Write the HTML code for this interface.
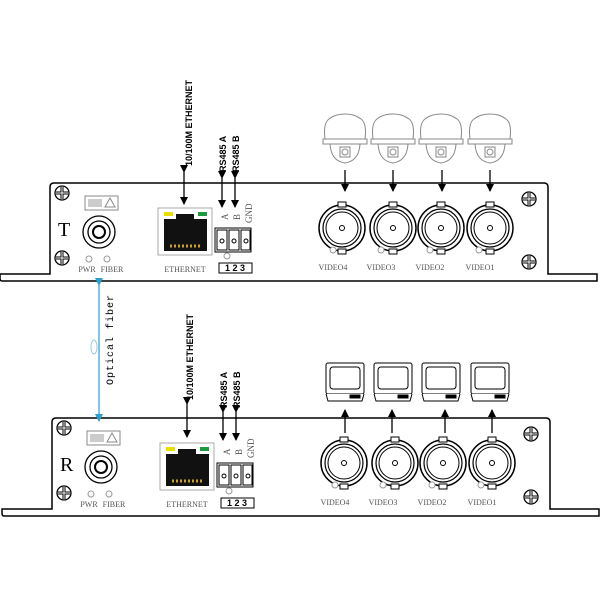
<!DOCTYPE html>
<html><head><style>body{margin:0;background:#fff}svg{display:block}</style></head><body>
<svg width="600" height="600" viewBox="0 0 600 600" xmlns="http://www.w3.org/2000/svg" font-family="Liberation Serif, serif">
<defs>
<marker id="ah" markerWidth="8" markerHeight="8" refX="7" refY="4" orient="auto" markerUnits="userSpaceOnUse"><path d="M0,0 L8,4 L0,8 z" fill="#000"/></marker>
<marker id="bh" markerWidth="8" markerHeight="8" refX="7" refY="4" orient="auto" markerUnits="userSpaceOnUse"><path d="M0,0 L8,4 L0,8 z" fill="#2a9fd0"/></marker>
<g id="screw"><circle r="7" fill="#fff" stroke="#000" stroke-width="1.3"/><path d="M-6,0H6M0,-6V6" stroke="#000" stroke-width="3"/><path d="M-6,0H6M0,-6V6" stroke="#fff" stroke-width="1"/></g>
<g id="bnc"><circle r="23" fill="#fff" stroke="#000" stroke-width="1.5"/><circle r="19" fill="none" stroke="#000" stroke-width="1.2"/><circle r="16" fill="none" stroke="#000" stroke-width="1"/><rect x="-4" y="-26" width="8" height="5" fill="#fff" stroke="#000"/><rect x="-4" y="21" width="8" height="5" fill="#fff" stroke="#000"/><circle r="2.5" fill="none" stroke="#000"/></g>
<g id="cam" fill="#fff" stroke="#888" stroke-width="1"><path d="M-20,22 Q-22,6 -16,2 Q-10,-3 0,-3 Q10,-3 16,2 Q22,6 20,22 z"/><path d="M-22,22 H22 V27 H-22 z"/><path d="M-15,27 Q-14,44 0,46 Q14,44 15,27 z"/><rect x="-5" y="30" width="10" height="10"/><circle cx="0" cy="35" r="3"/></g>
<g id="mon" fill="#fff" stroke="#000" stroke-width="1"><rect x="-19" y="0" width="38" height="31" rx="2"/><rect x="-15" y="4" width="30" height="22" rx="3"/><path d="M-19,31 L-17,38 H17 L19,31"/><rect x="5" y="32" width="10" height="3" fill="#000"/></g>
<g id="dev">
<path d="M0,91 H50 V4 Q50,0 54,0 H544 Q548,0 548,4 V91 H597 V98 H2 Q0,98 0,95 z" fill="#fff" stroke="#000" stroke-width="1.5"/>
<use href="#screw" x="62" y="10"/><use href="#screw" x="62" y="75"/>
<use href="#screw" x="529" y="16"/><use href="#screw" x="529" y="79"/>
<rect x="85" y="13" width="33" height="14" fill="#fff" stroke="#888"/><path d="M105,24 L110,15 L115,24 z" fill="none" stroke="#888"/><rect x="88" y="16" width="14" height="8" fill="#ccc"/>
<circle cx="99" cy="49" r="16" fill="#fff" stroke="#000" stroke-width="1.3"/><circle cx="99" cy="49" r="11" fill="none" stroke="#000" stroke-width="1.3"/><circle cx="99" cy="49" r="6" fill="none" stroke="#000" stroke-width="2"/>
<circle cx="89" cy="76" r="3" fill="#fff" stroke="#999"/><circle cx="107" cy="76" r="3" fill="#fff" stroke="#999"/>
<rect x="158" y="25" width="54" height="47" fill="#fff" stroke="#aaa"/><rect x="164" y="29" width="9" height="4" fill="#e8e000"/><rect x="198" y="29" width="9" height="4" fill="#1a9a3a"/>
<path d="M164,36 H176 V31 H194 V36 H207 V68 H164 z" fill="#111"/><path d="M170,63 H202" stroke="#c9a030" stroke-width="3" stroke-dasharray="2,2"/>
<rect x="215" y="45" width="36" height="24" fill="#fff" stroke="#000"/><rect x="217" y="47" width="10" height="20" fill="#fff" stroke="#000"/><rect x="229" y="47" width="10" height="20" fill="#fff" stroke="#000"/><rect x="241" y="47" width="9" height="20" fill="#fff" stroke="#000"/>
<circle cx="222" cy="58" r="2" fill="none" stroke="#000"/><circle cx="234" cy="58" r="2" fill="none" stroke="#000"/><circle cx="246" cy="58" r="2" fill="none" stroke="#000"/>
<circle cx="227" cy="73" r="3" fill="#fff" stroke="#999"/>
<rect x="219" y="80" width="33" height="10" fill="#fff" stroke="#000"/>
<use href="#bnc" x="342" y="45"/><use href="#bnc" x="393" y="45"/><use href="#bnc" x="441" y="45"/><use href="#bnc" x="490" y="45"/>
<g fill="#fff" stroke="#999"><circle cx="333" cy="67" r="3"/><circle cx="381" cy="67" r="3"/><circle cx="430" cy="67" r="3"/><circle cx="479" cy="67" r="3"/></g>
<g font-size="8" fill="#555"><text x="87" y="89" text-anchor="middle">PWR</text><text x="112" y="89" text-anchor="middle">FIBER</text><text x="185" y="89" text-anchor="middle">ETHERNET</text>
<text x="333" y="87" text-anchor="middle">VIDEO4</text><text x="381" y="87" text-anchor="middle">VIDEO3</text><text x="430" y="87" text-anchor="middle">VIDEO2</text><text x="480" y="87" text-anchor="middle">VIDEO1</text></g>
<text x="235" y="88" font-size="9" font-family="Liberation Sans, sans-serif" font-weight="bold" text-anchor="middle">1 2 3</text>
<g font-size="9" fill="#555"><text transform="translate(228,37) rotate(-90)">A</text><text transform="translate(240,37) rotate(-90)">B</text><text transform="translate(252,40) rotate(-90)">GND</text></g>
</g>
</defs>
<use href="#dev" x="0" y="183"/>
<use href="#dev" x="2" y="418"/>
<text x="58" y="236" font-size="20">T</text>
<text x="60" y="471" font-size="20">R</text>
<g stroke="#000" stroke-width="1.3">
<line x1="184" y1="172" x2="184" y2="204" marker-start="url(#ah)" marker-end="url(#ah)"/>
<line x1="222" y1="178" x2="222" y2="207" marker-start="url(#ah)" marker-end="url(#ah)"/>
<line x1="235" y1="178" x2="235" y2="207" marker-start="url(#ah)" marker-end="url(#ah)"/>
<line x1="345" y1="170" x2="345" y2="191" marker-end="url(#ah)"/>
<line x1="393" y1="170" x2="393" y2="191" marker-end="url(#ah)"/>
<line x1="442" y1="170" x2="442" y2="191" marker-end="url(#ah)"/>
<line x1="490" y1="170" x2="490" y2="191" marker-end="url(#ah)"/>
<line x1="187" y1="404" x2="187" y2="437" marker-start="url(#ah)" marker-end="url(#ah)"/>
<line x1="223" y1="412" x2="223" y2="440" marker-start="url(#ah)" marker-end="url(#ah)"/>
<line x1="236" y1="412" x2="236" y2="440" marker-start="url(#ah)" marker-end="url(#ah)"/>
<line x1="345" y1="433" x2="345" y2="410" marker-end="url(#ah)"/>
<line x1="392" y1="433" x2="392" y2="410" marker-end="url(#ah)"/>
<line x1="445" y1="433" x2="445" y2="410" marker-end="url(#ah)"/>
<line x1="492" y1="433" x2="492" y2="410" marker-end="url(#ah)"/>
</g>
<g font-family="Liberation Sans, sans-serif" font-weight="bold" font-size="9">
<text transform="translate(192,166) rotate(-90)">10/100M ETHERNET</text>
<text transform="translate(226,172) rotate(-90)">RS485 A</text>
<text transform="translate(239,172) rotate(-90)">RS485 B</text>
<text transform="translate(193,400) rotate(-90)">10/100M ETHERNET</text>
<text transform="translate(227,408) rotate(-90)">RS485 A</text>
<text transform="translate(240,408) rotate(-90)">RS485 B</text>
</g>
<use href="#cam" x="345" y="117"/><use href="#cam" x="393" y="117"/><use href="#cam" x="441" y="117"/><use href="#cam" x="490" y="117"/>
<use href="#mon" x="345" y="363"/><use href="#mon" x="393" y="363"/><use href="#mon" x="441" y="363"/><use href="#mon" x="490" y="363"/>
<line x1="99" y1="285" x2="99" y2="421" stroke="#2a9fd0" stroke-width="1.2" marker-start="url(#bh)" marker-end="url(#bh)"/>
<ellipse cx="94" cy="347" rx="3" ry="7" fill="none" stroke="#9cc8e0"/>
<text transform="translate(113,385) rotate(-90)" font-family="Liberation Mono, monospace" font-size="10" letter-spacing="1">Optical fiber</text>
</svg>
</body></html>
